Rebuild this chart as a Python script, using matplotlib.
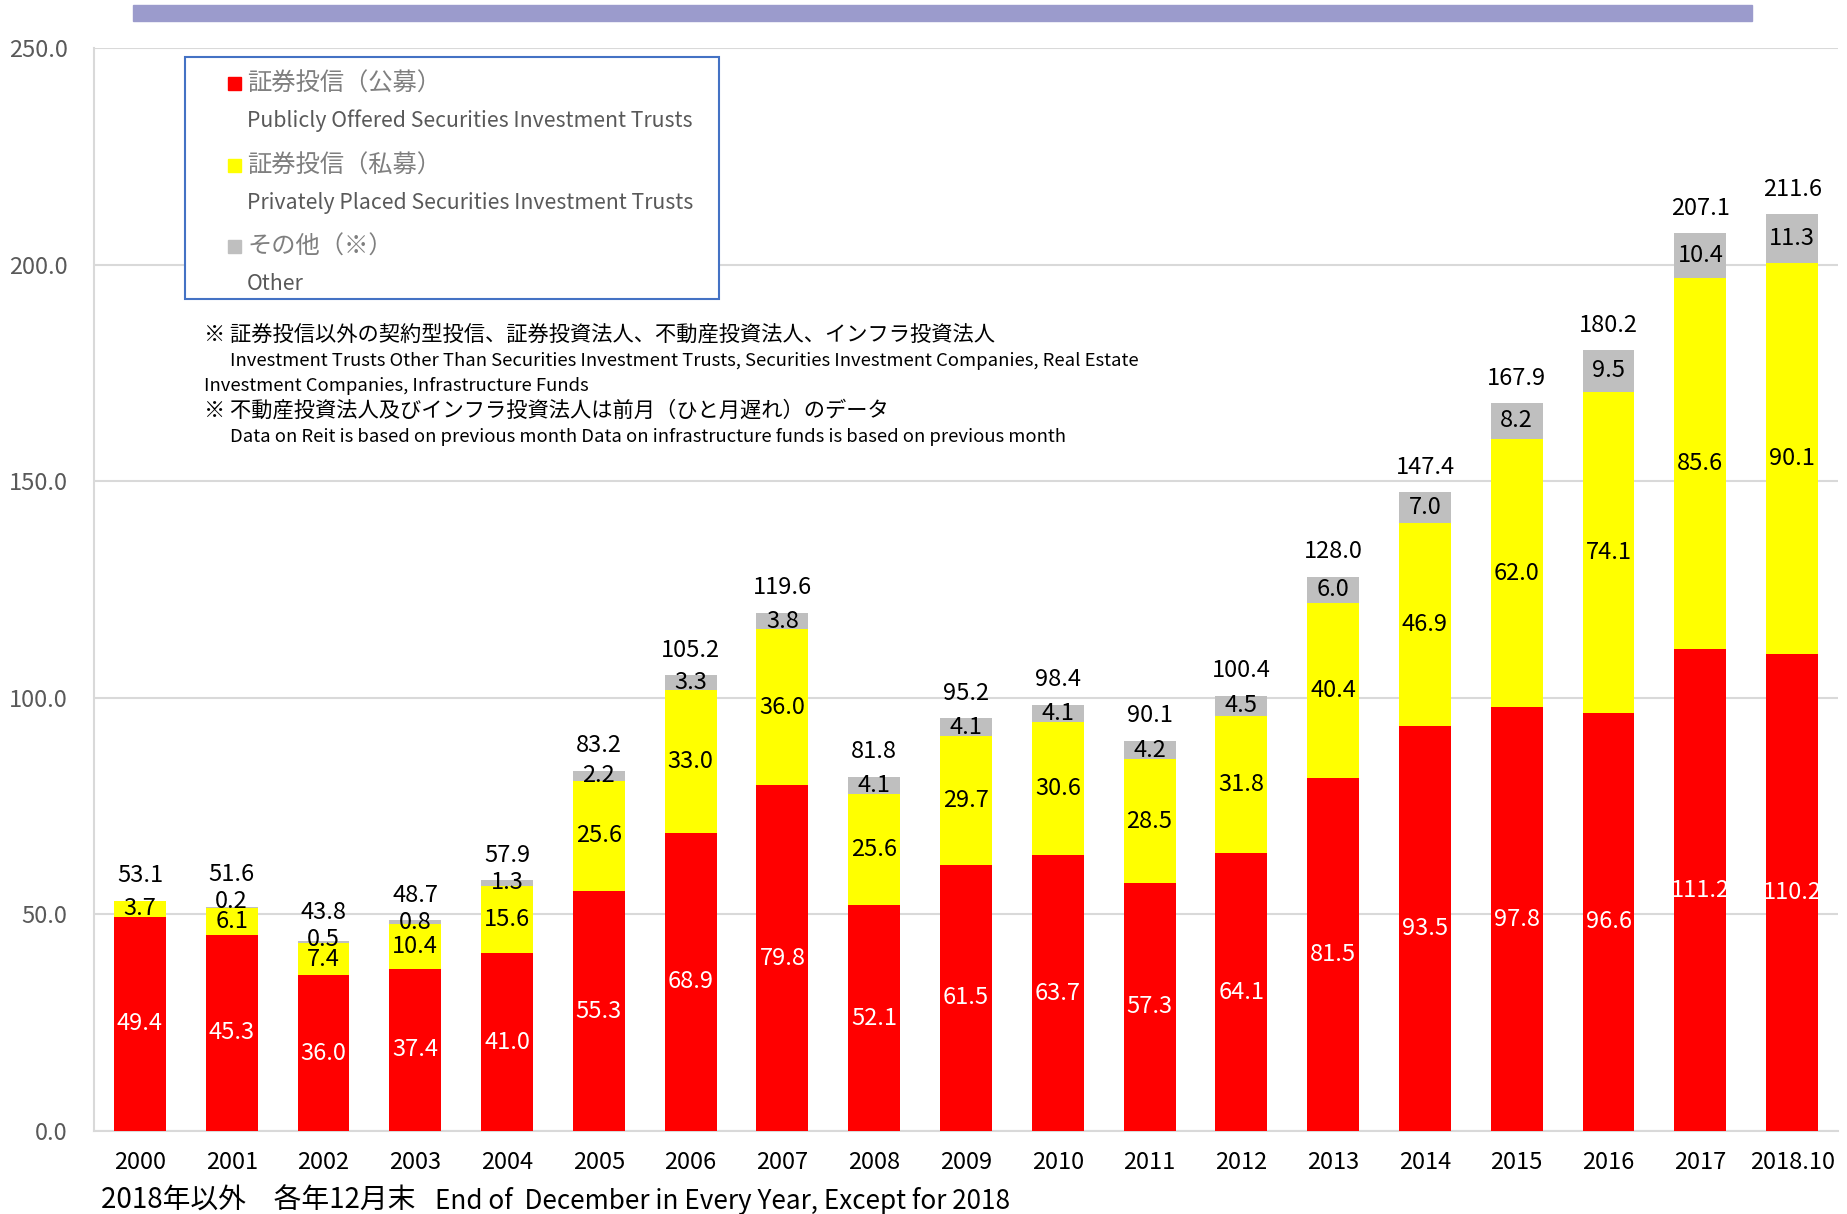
import matplotlib
matplotlib.use("Agg")
import matplotlib.pyplot as plt
from matplotlib.patches import Rectangle
import numpy as np

plt.rcParams['font.family'] = ['Noto Sans CJK JP', 'DejaVu Sans']

categories = ["2000", "2001", "2002", "2003", "2004", "2005", "2006", "2007", "2008", "2009",
              "2010", "2011", "2012", "2013", "2014", "2015", "2016", "2017", "2018.10"]
public = [49.4, 45.3, 36.0, 37.4, 41.0, 55.3, 68.9, 79.8, 52.1, 61.5,
          63.7, 57.3, 64.1, 81.5, 93.5, 97.8, 96.6, 111.2, 110.2]
private = [3.7, 6.1, 7.4, 10.4, 15.6, 25.6, 33.0, 36.0, 25.6, 29.7,
           30.6, 28.5, 31.8, 40.4, 46.9, 62.0, 74.1, 85.6, 90.1]
other = [0.0, 0.2, 0.5, 0.8, 1.3, 2.2, 3.3, 3.8, 4.1, 4.1,
         4.1, 4.2, 4.5, 6.0, 7.0, 8.2, 9.5, 10.4, 11.3]
totals = [53.1, 51.6, 43.8, 48.7, 57.9, 83.2, 105.2, 119.6, 81.8, 95.2,
          98.4, 90.1, 100.4, 128.0, 147.4, 167.9, 180.2, 207.1, 211.6]
yticks = [0, 50, 100, 150, 200, 250]

legend_labels = [("証券投信（公募）", "Publicly Offered Securities Investment Trusts"),
                 ("証券投信（私募）", "Privately Placed Securities Investment Trusts"),
                 ("その他（※）", "Other")]
note_lines = ["※ 証券投信以外の契約型投信、証券投資法人、不動産投資法人、インフラ投資法人",
              "Investment Trusts Other Than Securities Investment Trusts, Securities Investment Companies, Real Estate",
              "Investment Companies, Infrastructure Funds",
              "※ 不動産投資法人及びインフラ投資法人は前月（ひと月遅れ）のデータ",
              "Data on Reit is based on previous month Data on infrastructure funds is based on previous month"]
footer_jp = "2018年以外　各年12月末"
footer_en = "End of  December in Every Year, Except for 2018"

RED, YEL, GRY = "#FF0000", "#FFFF00", "#BFBFBF"
W, H = 1847, 1214
fig = plt.figure(figsize=(W / 100, H / 100), dpi=100)
ax = fig.add_axes([94 / W, (H - 1131) / H, (1838 - 94) / W, (1131 - 48) / H])

x = np.arange(len(categories))
pub = np.array(public)
pri = np.array(private)
oth = np.array(other)
bw = 0.565
ax.bar(x, pub, bw, color=RED, zorder=3)
ax.bar(x, pri, bw, bottom=pub, color=YEL, zorder=3)
ax.bar(x, oth, bw, bottom=pub + pri, color=GRY, zorder=3)

fs = 17
for i in range(len(x)):
    ax.text(x[i], pub[i] / 2, f"{public[i]:.1f}", ha='center', va='center', color='white', fontsize=fs, zorder=4)
    yc = pub[i] + pri[i] / 2
    ax.text(x[i], yc, f"{private[i]:.1f}", ha='center', va='center', color='black', fontsize=fs, zorder=4)
    top = pub[i] + pri[i] + oth[i]
    ty = top + 5.8
    if other[i] > 0:
        gy = max(pub[i] + pri[i] + oth[i] / 2, yc + 4.6)
        ax.text(x[i], gy, f"{other[i]:.1f}", ha='center', va='center', color='black', fontsize=fs, zorder=4)
        ty = max(ty, gy + 6.2)
    ax.text(x[i], ty, f"{totals[i]:.1f}", ha='center', va='center', color='black', fontsize=fs, zorder=4)

ax.set_xlim(-0.5, len(x) - 0.5)
ax.set_ylim(0, 250)
ax.set_yticks(yticks)
ax.set_yticklabels([f"{v:.1f}" for v in yticks], color='#595959', fontsize=17)
ax.set_xticks(x)
ax.set_xticklabels(categories, fontsize=17, color='black')
ax.tick_params(axis='y', length=0, pad=19)
ax.tick_params(axis='x', length=0, pad=14.5)
ax.grid(axis='y', color='#D9D9D9', linewidth=1.5, zorder=0)
for s in ['top', 'right']:
    ax.spines[s].set_visible(False)
ax.spines['left'].set_color('#D9D9D9')
ax.spines['left'].set_linewidth(1.5)
ax.spines['bottom'].set_color('#D9D9D9')
ax.spines['bottom'].set_linewidth(1.5)

# top purple band
fig.patches.append(Rectangle((133 / W, 1 - 21 / H), (1752 - 133) / W, 16 / H,
                             transform=fig.transFigure, color='#9B9BCC', zorder=1))

# legend box
fig.patches.append(Rectangle((185 / W, 1 - 299 / H), (719 - 185) / W, (299 - 57) / H,
                             transform=fig.transFigure, facecolor='white', edgecolor='#4472C4',
                             linewidth=1.5, zorder=5))
colors = [RED, YEL, GRY]
ys = [84, 166, 247]
for (jp, en), c, yy in zip(legend_labels, colors, ys):
    fig.patches.append(Rectangle((228 / W, 1 - (yy + 6) / H), 13 / W, 13 / H,
                                 transform=fig.transFigure, color=c, zorder=6))
    fig.text(247 / W, 1 - yy / H, jp, fontsize=17.5, color='#7F7F7F', va='center', ha='left', zorder=7)
    fig.text(247 / W, 1 - (yy + 37) / H, en, fontsize=15.3, color='#595959', va='center', ha='left', zorder=7)

note_pos = [(204, 335), (230, 361), (204, 386), (204, 411), (230, 437)]
note_fs = [15.3, 13.3, 13.3, 15.3, 13.3]
for t, (px, py), f in zip(note_lines, note_pos, note_fs):
    fig.text(px / W, 1 - py / H, t, fontsize=f, color='black', va='center', ha='left', zorder=7)

fig.text(101 / W, 1 - 1201 / H, footer_jp, fontsize=20, color='black', va='center', ha='left')
fig.text(435 / W, 1 - 1201 / H, footer_en, fontsize=18.8, color='black', va='center', ha='left')

fig.savefig("out.png", dpi=100)
